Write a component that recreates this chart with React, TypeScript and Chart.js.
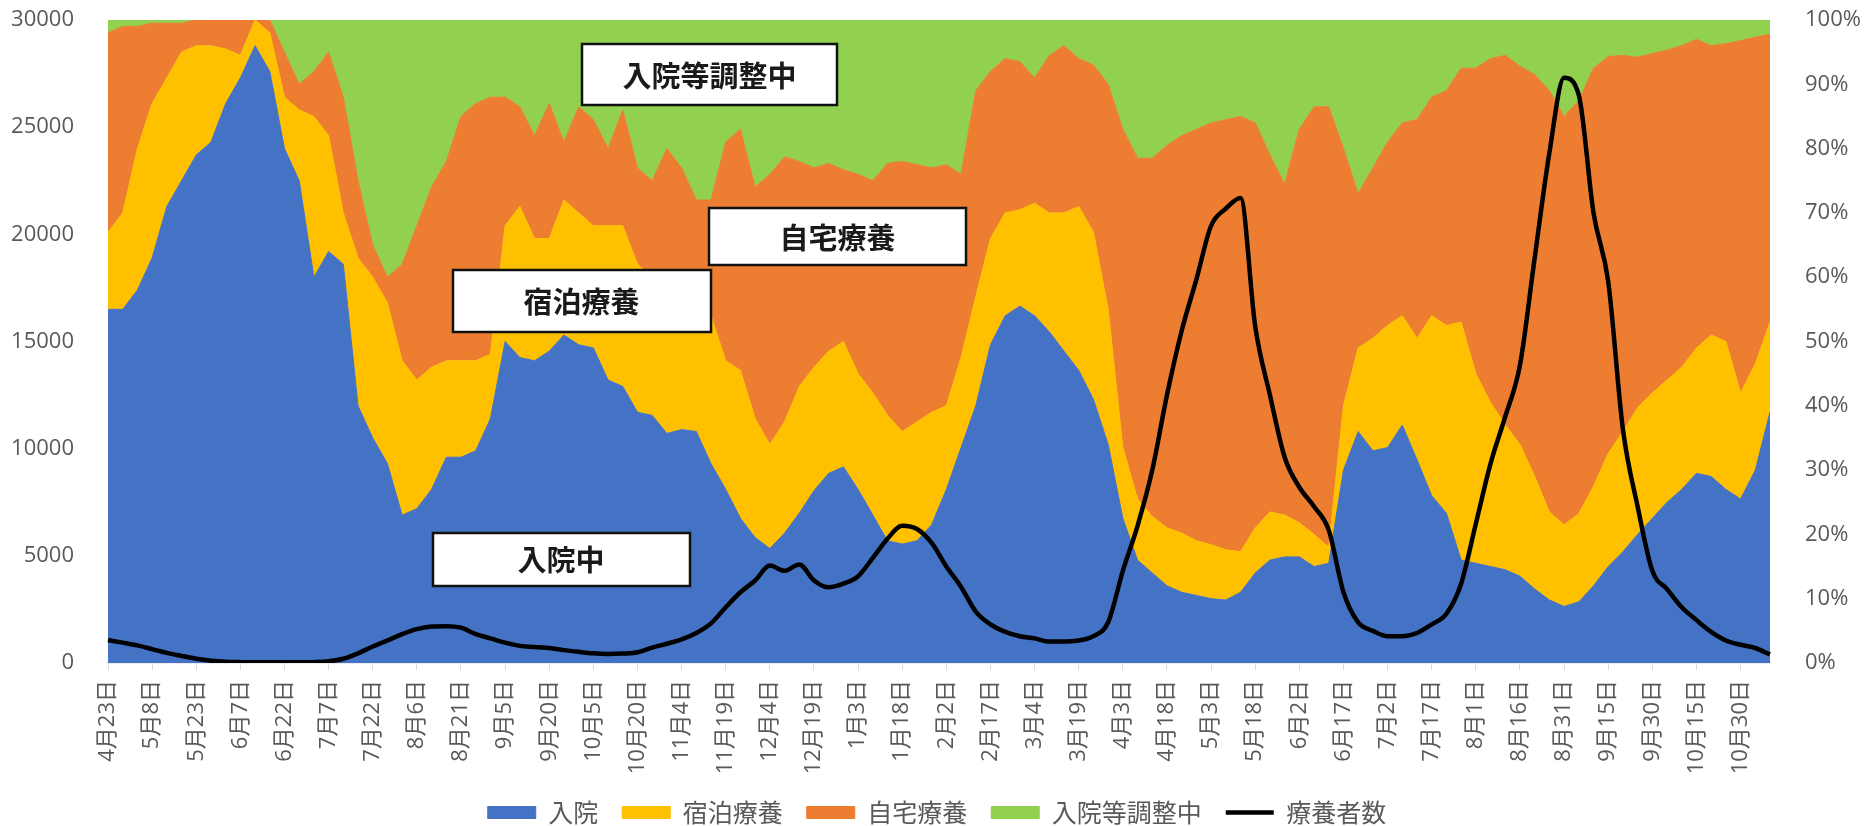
import React, { useEffect, useRef } from 'react';
import { Chart, registerables } from 'chart.js';

Chart.register(...registerables);

// Categories: one point every 5 days, 2020-04-23 .. 2021-11-09
const CATEGORIES = [
  '4月23日', '4月28日', '5月3日', '5月8日', '5月13日', '5月18日', '5月23日', '5月28日', '6月2日', '6月7日',
  '6月12日', '6月17日', '6月22日', '6月27日', '7月2日', '7月7日', '7月12日', '7月17日', '7月22日', '7月27日',
  '8月1日', '8月6日', '8月11日', '8月16日', '8月21日', '8月26日', '8月31日', '9月5日', '9月10日', '9月15日',
  '9月20日', '9月25日', '9月30日', '10月5日', '10月10日', '10月15日', '10月20日', '10月25日', '10月30日', '11月4日',
  '11月9日', '11月14日', '11月19日', '11月24日', '11月29日', '12月4日', '12月9日', '12月14日', '12月19日', '12月24日',
  '12月29日', '1月3日', '1月8日', '1月13日', '1月18日', '1月23日', '1月28日', '2月2日', '2月7日', '2月12日',
  '2月17日', '2月22日', '2月27日', '3月4日', '3月9日', '3月14日', '3月19日', '3月24日', '3月29日', '4月3日',
  '4月8日', '4月13日', '4月18日', '4月23日', '4月28日', '5月3日', '5月8日', '5月13日', '5月18日', '5月23日',
  '5月28日', '6月2日', '6月7日', '6月12日', '6月17日', '6月22日', '6月27日', '7月2日', '7月7日', '7月12日',
  '7月17日', '7月22日', '7月27日', '8月1日', '8月6日', '8月11日', '8月16日', '8月21日', '8月26日', '8月31日',
  '9月5日', '9月10日', '9月15日', '9月20日', '9月25日', '9月30日', '10月5日', '10月10日', '10月15日', '10月20日',
  '10月25日', '10月30日', '11月4日', '11月9日',
];
// every third category (15 days) carries a tick label
const TICK_STEP = 3;

// Shares (%) of each category of patients
const HOSPITAL = [
  55, 55, 58, 63, 71, 75, 79, 81, 87, 91,
  96, 92, 80, 75, 60, 64, 62, 40, 35, 31,
  23, 24, 27, 32, 32, 33, 38, 50, 47.5, 47,
  48.5, 51, 49.5, 49, 44, 43, 39, 38.5, 35.7, 36.3,
  36, 31, 27, 22.5, 19.5, 17.8, 20.2, 23.3, 26.8, 29.5,
  30.5, 27, 23, 19, 18.5, 19, 21.5, 27, 33.5, 40,
  49.5, 54, 55.5, 54, 51.5, 48.5, 45.5, 41, 34, 22.5,
  16, 14, 12, 11, 10.5, 10, 9.8, 11, 14, 16,
  16.5, 16.5, 15, 15.5, 30, 36, 33, 33.5, 37, 31.6,
  26, 23.3, 16, 15.5, 15, 14.5, 13.5, 11.5, 9.8, 8.8,
  9.5, 12, 15, 17.3, 20, 22.5, 25, 27, 29.5, 29,
  27, 25.5, 30, 39,
];
const HOTEL = [
  12, 15, 22, 24, 20, 20, 17, 15, 8.5, 3.5,
  4, 6, 8, 11, 25, 18, 8, 23, 25, 25,
  24, 20, 19, 15, 15, 14, 10, 18, 23.5, 19,
  17.5, 21, 20.5, 19, 24, 25, 23, 21.5, 22.3, 20.7,
  20, 23, 20, 23, 18.5, 16.2, 17.3, 19.7, 19.2, 19,
  19.5, 18, 19, 19.5, 17.5, 18.5, 17.5, 13, 14, 17,
  16.5, 16, 15, 17.5, 18.5, 21.5, 25.5, 26, 21, 11,
  9.5, 8.8, 9, 9.2, 8.5, 8.4, 7.8, 6.3, 7, 7.5,
  6.5, 5.3, 5, 2.5, 10, 13, 17.5, 19, 17, 18.9,
  28, 29.2, 37, 29.5, 25.5, 22.5, 20.5, 17.5, 13.7, 12.7,
  13.7, 15.5, 17.6, 18.7, 19.7, 19.5, 19, 19, 19.5, 22,
  23, 16.5, 16.5, 14,
];
const HOME = [
  31, 29, 19, 12.5, 8.5, 4.5, 4, 4, 4.5, 5.5,
  0, 2, 7, 4, 7, 13, 18, 12, 5, 4,
  15, 24, 28, 31, 38, 40, 40, 20, 15.5, 16,
  21, 9, 16.5, 16.5, 12, 18, 15, 15, 22, 20,
  16, 18, 34, 37.5, 36, 42, 41.2, 35, 31, 29.2,
  26.7, 31, 33, 39.2, 42, 40, 38, 37.5, 28.5, 32,
  26, 24, 23, 19.5, 24.5, 26, 23, 26, 35, 49.5,
  53, 55.7, 59.5, 61.8, 64, 65.6, 66.9, 67.7, 63, 55.5,
  51.5, 61.2, 66.5, 68.5, 40, 24, 26.5, 28.5, 30, 34,
  34, 36.5, 39.5, 47.5, 53.5, 57.5, 58.8, 62.5, 65.5, 63.5,
  64.3, 65, 61.7, 58.5, 54.5, 52.8, 51.3, 50, 48, 45,
  46.3, 54.8, 50.8, 44.8,
];
const ADJUSTING = [
  2, 1, 1, 0.5, 0.5, 0.5, 0, 0, 0, 0,
  0, 0, 5, 10, 8, 5, 12, 25, 35, 40,
  38, 32, 26, 22, 15, 13, 12, 12, 13.5, 18,
  13, 19, 13.5, 15.5, 20, 14, 23, 25, 20, 23,
  28, 28, 19, 17, 26, 24, 21.3, 22, 23, 22.3,
  23.3, 24, 25, 22.3, 22, 22.5, 23, 22.5, 24, 11,
  8, 6, 6.5, 9, 5.5, 4, 6, 7, 10, 17,
  21.5, 21.5, 19.5, 18, 17, 16, 15.5, 15, 16, 21,
  25.5, 17, 13.5, 13.5, 20, 27, 23, 19, 16, 15.5,
  12, 11, 7.5, 7.5, 6, 5.5, 7.2, 8.5, 11, 15,
  12.5, 7.5, 5.7, 5.5, 5.8, 5.2, 4.7, 4, 3, 4,
  3.7, 3.2, 2.7, 2.2,
];
// Total patients under care (left axis)
const PATIENTS = [
  1070, 950, 820, 650, 470, 330, 200, 110, 60, 40,
  30, 30, 30, 30, 40, 80, 200, 450, 770, 1050,
  1350, 1580, 1700, 1720, 1650, 1350, 1150, 950, 800, 750,
  700, 600, 520, 450, 420, 440, 500, 720, 900, 1100,
  1400, 1850, 2600, 3300, 3850, 4550, 4300, 4600, 3850, 3530,
  3700, 4050, 4900, 5800, 6400, 6250, 5600, 4500, 3550, 2400,
  1800, 1450, 1250, 1150, 1000, 1000, 1050, 1250, 1900, 4300,
  6400, 9000, 12500, 15500, 17900, 20400, 21200, 21700, 15700, 12500,
  9600, 8200, 7300, 6200, 3300, 1900, 1500, 1250, 1250, 1400,
  1800, 2300, 3700, 6500, 9300, 11500, 13900, 18900, 23800, 27300,
  26500, 21000, 17800, 10900, 7300, 4300, 3450, 2600, 2000, 1450,
  1050, 850, 700, 400,
];

const SERIES_NAMES = ['入院', '宿泊療養', '自宅療養', '入院等調整中'];
const LINE_NAME = '療養者数';
const LEFT_MAX = 30000;
const LEFT_STEP = 5000;
const RIGHT_MAX = 100;
const RIGHT_STEP = 10;

const COLORS = ['#4472C4', '#FFC000', '#ED7D31', '#92D050'];
const TEXT_GRAY = '#595959';
const NUM_FONT = "'Open Sans', 'Noto Sans CJK JP', sans-serif";
const JP_FONT = "'Noto Sans CJK JP', sans-serif";

// Call-out boxes, anchored in data units (category index, right-axis %)
const NOTES = [
  { text: '入院等調整中', at: 40.9, pct: 91.5, w: 255, h: 61 },
  { text: '自宅療養', at: 49.6, pct: 66.3, w: 257, h: 57 },
  { text: '宿泊療養', at: 32.2, pct: 56.3, w: 258, h: 62 },
  { text: '入院中', at: 30.8, pct: 16.1, w: 257, h: 53 },
];

const notesPlugin = {
  id: 'notes',
  afterDatasetsDraw(chart: any) {
    const { ctx, scales } = chart;
    ctx.save();
    NOTES.forEach((n) => {
      const cx = scales.x.getPixelForValue(n.at);
      const cy = scales.y1.getPixelForValue(n.pct);
      const x0 = Math.round(cx - n.w / 2);
      const y0 = Math.round(cy - n.h / 2);
      ctx.fillStyle = '#ffffff';
      ctx.fillRect(x0, y0, n.w, n.h);
      ctx.lineWidth = 2.5;
      ctx.strokeStyle = '#111111';
      ctx.strokeRect(x0, y0, n.w, n.h);
      ctx.fillStyle = '#1a1a1a';
      ctx.font = `bold 29px ${JP_FONT}`;
      ctx.textAlign = 'center';
      ctx.textBaseline = 'middle';
      ctx.fillText(n.text, cx, cy + 1);
    });
    ctx.restore();
  },
};

// vertical axes: fixed width, no extra top/bottom padding from tick padding
const fixVertical = (width: number) => (s: any) => {
  s.width = width;
  s.paddingTop = 0;
  s.paddingBottom = 0;
};

export default function App() {
  const ref = useRef<HTMLCanvasElement>(null);

  useEffect(() => {
    if (!ref.current) return;
    const shares = [HOSPITAL, HOTEL, HOME, ADJUSTING];
    const areaSets = shares.map((vals, i) => ({
      type: 'line' as const,
      label: SERIES_NAMES[i],
      data: vals,
      yAxisID: 'y1',
      backgroundColor: COLORS[i],
      borderColor: COLORS[i],
      borderWidth: 1,
      pointRadius: 0,
      pointStyle: 'rect',
      tension: 0,
      fill: i === 0 ? 'origin' : '-1',
      order: 0,
    }));
    const lineSet = {
      type: 'line' as const,
      label: LINE_NAME,
      data: PATIENTS,
      yAxisID: 'y',
      borderColor: '#000000',
      backgroundColor: '#000000',
      borderWidth: 4.5,
      pointRadius: 0,
      pointStyle: 'line',
      cubicInterpolationMode: 'monotone' as const,
      fill: false,
      order: -1,
    };

    const chart = new Chart(ref.current, {
      type: 'line',
      data: { labels: CATEGORIES, datasets: [...areaSets, lineSet] as any },
      options: {
        animation: false,
        responsive: true,
        maintainAspectRatio: false,
        events: [],
        layout: { padding: { top: 20, left: 0, right: 0, bottom: 0 } },
        plugins: {
          tooltip: { enabled: false },
          legend: {
            position: 'bottom',
            labels: {
              usePointStyle: true,
              pointStyleWidth: 48,
              boxHeight: 12,
              padding: 24,
              color: TEXT_GRAY,
              font: { size: 25, family: JP_FONT },
              sort: (a: any, b: any) => a.datasetIndex - b.datasetIndex,
            },
          },
        },
        scales: {
          x: {
            type: 'category',
            offset: false,
            grid: {
              display: true,
              drawOnChartArea: false,
              drawTicks: true,
              tickLength: 7,
              color: (c: any) => (c.index % TICK_STEP === 0 ? '#d9d9d9' : 'rgba(0,0,0,0)'),
            },
            border: { display: true, color: '#d9d9d9', width: 1.5 },
            ticks: {
              autoSkip: false,
              maxRotation: 90,
              minRotation: 90,
              padding: 10,
              color: TEXT_GRAY,
              font: { size: 22, family: NUM_FONT },
              callback: (_v: any, i: number) => (i % TICK_STEP === 0 ? CATEGORIES[i] : ''),
            },
            afterFit: (s: any) => {
              s.height = 113;
            },
          },
          y: {
            position: 'left',
            min: 0,
            max: LEFT_MAX,
            grid: { display: false },
            border: { display: false },
            ticks: {
              stepSize: LEFT_STEP,
              padding: 26,
              color: TEXT_GRAY,
              font: { size: 22, family: NUM_FONT },
              callback: (v: any) => String(v),
            },
            afterFit: fixVertical(108),
          },
          y1: {
            position: 'right',
            stacked: true,
            min: 0,
            max: RIGHT_MAX,
            grid: { display: false },
            border: { display: false },
            ticks: {
              stepSize: RIGHT_STEP,
              padding: 27,
              color: TEXT_GRAY,
              font: { size: 22, family: NUM_FONT },
              callback: (v: any) => `${v}%`,
            },
            afterFit: fixVertical(104),
          },
        },
      } as any,
      plugins: [notesPlugin],
    });
    return () => chart.destroy();
  }, []);

  return (
    <div
      style={{
        position: 'fixed',
        left: 0,
        top: 0,
        width: 1874,
        height: 826,
        overflow: 'hidden',
        background: '#ffffff',
      }}
    >
      <div style={{ position: 'relative', width: 1874, height: 835 }}>
        <canvas ref={ref} />
      </div>
    </div>
  );
}
